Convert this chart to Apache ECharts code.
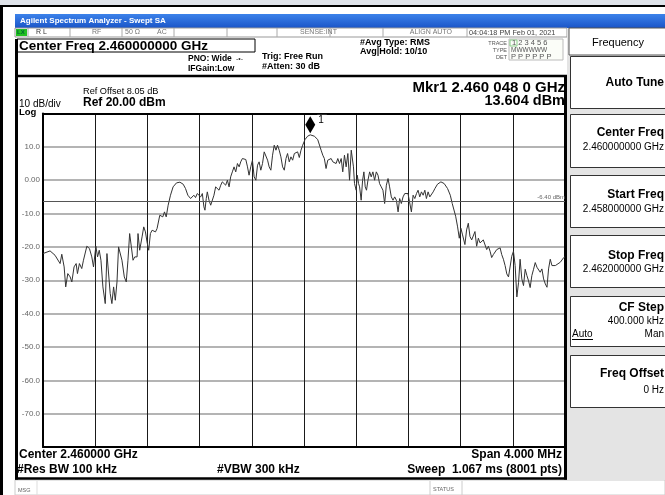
<!DOCTYPE html>
<html><head><meta charset="utf-8">
<script src="https://cdn.jsdelivr.net/npm/echarts@6/dist/echarts.min.js"></script>
<style>html,body{margin:0;padding:0;background:#fff}#c{width:665px;height:495px}</style>
</head><body><div id="c"></div>
<script>
// ---- data ----
const freqMHz = [2458.000,2458.015,2458.054,2458.092,2458.131,2458.144,2458.162,2458.174,2458.190,2458.208,2458.221,2458.238,2458.254,2458.264,2458.279,2458.297,2458.310,2458.336,2458.356,2458.374,2458.387,2458.405,2458.418,2458.431,2458.444,2458.459,2458.477,2458.490,2458.503,2458.515,2458.528,2458.541,2458.554,2458.567,2458.579,2458.592,2458.605,2458.623,2458.638,2458.651,2458.664,2458.677,2458.690,2458.703,2458.721,2458.728,2458.741,2458.759,2458.772,2458.785,2458.797,2458.810,2458.823,2458.836,2458.849,2458.862,2458.874,2458.895,2458.908,2458.918,2458.931,2458.944,2458.959,2458.977,2458.997,2459.023,2459.049,2459.074,2459.092,2459.110,2459.131,2459.144,2459.156,2459.169,2459.182,2459.195,2459.208,2459.221,2459.233,2459.241,2459.251,2459.259,2459.272,2459.285,2459.297,2459.310,2459.323,2459.336,2459.349,2459.362,2459.374,2459.387,2459.400,2459.413,2459.426,2459.438,2459.451,2459.464,2459.477,2459.490,2459.503,2459.515,2459.528,2459.541,2459.554,2459.567,2459.579,2459.592,2459.605,2459.618,2459.631,2459.644,2459.656,2459.669,2459.682,2459.695,2459.708,2459.721,2459.733,2459.746,2459.759,2459.772,2459.785,2459.797,2459.810,2459.823,2459.836,2459.849,2459.862,2459.874,2459.887,2459.900,2459.913,2459.926,2459.938,2459.951,2459.964,2459.977,2459.990,2460.008,2460.028,2460.048,2460.079,2460.105,2460.131,2460.144,2460.156,2460.169,2460.182,2460.195,2460.208,2460.221,2460.233,2460.246,2460.259,2460.272,2460.285,2460.297,2460.310,2460.323,2460.336,2460.349,2460.362,2460.369,2460.379,2460.387,2460.400,2460.408,2460.418,2460.426,2460.438,2460.449,2460.459,2460.469,2460.479,2460.490,2460.503,2460.515,2460.528,2460.541,2460.554,2460.567,2460.579,2460.592,2460.605,2460.618,2460.631,2460.644,2460.656,2460.669,2460.682,2460.695,2460.708,2460.721,2460.733,2460.746,2460.759,2460.772,2460.785,2460.797,2460.810,2460.823,2460.836,2460.849,2460.862,2460.874,2460.887,2460.900,2460.913,2460.926,2460.938,2460.951,2460.964,2460.977,2460.990,2461.003,2461.023,2461.049,2461.074,2461.100,2461.121,2461.136,2461.162,2461.177,2461.190,2461.202,2461.215,2461.233,2461.246,2461.259,2461.272,2461.285,2461.297,2461.310,2461.323,2461.336,2461.349,2461.362,2461.374,2461.387,2461.400,2461.413,2461.426,2461.438,2461.451,2461.477,2461.490,2461.503,2461.515,2461.528,2461.541,2461.554,2461.567,2461.579,2461.592,2461.605,2461.618,2461.631,2461.644,2461.656,2461.669,2461.682,2461.695,2461.708,2461.721,2461.733,2461.746,2461.759,2461.772,2461.785,2461.797,2461.810,2461.823,2461.836,2461.849,2461.862,2461.874,2461.887,2461.900,2461.913,2461.926,2461.938,2461.964,2461.990,2462.000];
const levelDbm = [-22.0,-21.5,-21.2,-22.5,-25.0,-22.2,-26.0,-32.0,-28.0,-29.0,-30.5,-26.0,-25.0,-28.0,-25.0,-26.5,-24.0,-19.8,-20.5,-23.0,-26.0,-19.8,-23.0,-21.0,-24.0,-32.0,-37.0,-22.0,-21.5,-34.0,-37.0,-32.0,-36.0,-30.5,-20.0,-20.5,-24.0,-29.0,-30.5,-24.0,-16.0,-20.0,-24.0,-23.0,-23.0,-16.0,-21.0,-17.0,-14.0,-15.5,-18.5,-21.0,-16.0,-15.0,-15.2,-15.5,-14.5,-10.5,-10.0,-11.0,-9.5,-11.0,-7.5,-4.5,-2.0,-0.8,-0.6,-1.2,-2.5,-4.5,-5.5,-5.0,-4.5,-5.2,-4.0,-3.5,-5.0,-4.0,-8.0,-9.0,-5.5,-3.5,-6.0,-7.5,-7.0,-4.5,-2.0,-1.5,-3.0,-1.5,-0.5,0.0,-1.5,0.0,-2.0,1.0,2.5,4.0,2.5,5.0,4.0,5.5,6.5,6.0,6.2,4.0,1.5,4.0,6.0,1.0,0.0,4.5,5.5,3.0,5.0,8.5,8.0,6.0,4.0,3.0,7.5,10.5,9.0,10.5,9.0,7.0,4.0,3.0,6.5,8.0,5.5,7.0,6.0,8.0,7.5,8.5,6.8,9.0,10.5,12.2,13.2,13.6,13.2,12.2,9.0,7.5,6.5,3.5,6.0,5.5,6.5,5.5,6.0,5.0,6.5,5.0,6.5,2.5,7.5,4.0,8.0,0.0,9.0,9.2,4.0,-1.0,-3.0,1.5,-1.0,-2.0,-6.0,0.0,2.5,-2.0,-3.0,0.0,2.5,1.0,2.5,0.0,2.5,1.5,-1.0,-2.0,-3.0,-7.0,-1.5,0.5,-2.0,-5.0,-6.0,-5.0,-6.0,-9.5,-5.5,-7.0,-5.0,-4.0,-4.5,-4.0,-4.5,-9.5,-4.5,-5.5,-4.0,-3.0,-5.0,-3.5,-4.5,-3.0,-5.5,-3.5,-5.0,-5.5,-3.5,-2.5,-1.2,-0.5,-1.0,-2.5,-4.5,-7.0,-10.8,-14.0,-17.4,-14.4,-16.4,-19.3,-14.9,-12.9,-16.9,-17.9,-18.4,-15.4,-19.8,-17.4,-18.8,-18.4,-17.9,-18.4,-20.8,-19.8,-21.3,-23.2,-22.3,-20.8,-21.3,-20.3,-22.3,-23.7,-25.6,-28.1,-29.0,-29.5,-22.8,-21.3,-25.6,-35.0,-30.7,-23.7,-29.6,-31.6,-26.7,-28.6,-30.2,-32.2,-28.6,-26.7,-24.7,-26.1,-25.6,-27.6,-26.6,-29.6,-31.1,-32.1,-26.6,-23.7,-25.6,-25.1,-25.6,-25.1,-24.6,-23.2,-23.0];
const markerFreqMHz = 2460.048;
const markerLevelDbm = 13.604;
const displayLineDbm = -6.40;
const startMHz = 2458, stopMHz = 2462, freqStepMHz = 0.4;
const refLevel = 20, bottomLevel = -80, dbPerDiv = 10;
const yTickLabels = {10:'10.0', 0:'0.00', '-10':'-10.0', '-20':'-20.0', '-30':'-30.0', '-40':'-40.0', '-50':'-50.0', '-60':'-60.0', '-70':'-70.0'};

const trace = freqMHz.map((f, i) => [f, levelDbm[i]]);
const F = 'Liberation Sans, Arial, sans-serif';

function T(x, y, text, size, opts) {
  opts = opts || {};
  return {type:'text', x:x, y:y, z:10, silent:true, style:{
    text:text, font:(opts.bold?'bold ':'')+size+'px '+F, fill:opts.color||'#000',
    align:opts.align||'left', textAlign:opts.align||'left',
    verticalAlign:'middle', textVerticalAlign:'middle'}};
}
function R(x, y, w, h, fill, stroke, lw) {
  return {type:'rect', z:1, silent:true, shape:{x:x,y:y,width:w,height:h},
    style:{fill:fill||'none', stroke:stroke||null, lineWidth:lw||1}};
}
function L(x1,y1,x2,y2,color,lw){
  return {type:'line', z:5, silent:true, shape:{x1:x1,y1:y1,x2:x2,y2:y2}, style:{stroke:color, lineWidth:lw||1}};
}

const g = [];
g.push(R(0,0,665,5,'#dfe3ea'));
g.push(L(0,6,665,6,'#000',2));
g.push(R(0,5,3,490,'#000'));
g.push({type:'rect', z:1, silent:true, shape:{x:15,y:14,width:650,height:14},
  style:{fill:new echarts.graphic.LinearGradient(0,0,0,1,[{offset:0,color:'#3c82ea'},{offset:1,color:'#1a55c8'}])}});
g.push(T(20,21,'Agilent Spectrum Analyzer - Swept SA',8,{bold:true,color:'#fff'}));
g.push(R(15,28,552,9,'#fff','#999',1));
g.push(R(16,29,11,7,'#22c022'));
g.push(T(17,32.5,'LX',6,{bold:true,color:'#063'}));
[28,70,122,174,227,277,330,383,467].forEach(x=>g.push(L(x,28,x,37,'#aaa',1)));
g.push(T(36,32.5,'R L',7,{color:'#333'}));
g.push(T(92,32.5,'RF',7,{color:'#777'}));
g.push(T(125,32.5,'50 Ω',7,{color:'#777'}));
g.push(T(157,32.5,'AC',7,{color:'#777'}));
g.push(T(300,32.5,'SENSE:INT',7,{color:'#777'}));
g.push(T(452,32.5,'ALIGN AUTO',7,{color:'#777',align:'right'}));
g.push(T(469,32.5,'04:04:18 PM Feb 01, 2021',7.3,{color:'#444'}));
g.push(R(17,39,238,13,'#fff','#000',1));
g.push(T(19,46,'Center Freq 2.460000000 GHz',13.5,{bold:true}));
g.push(T(188,59,'PNO: Wide',8.5,{bold:true}));
g.push(T(236,59,'-•-',7,{color:'#333'}));
g.push(T(188,69,'IFGain:Low',8.5,{bold:true}));
g.push(T(262,57,'Trig: Free Run',9,{bold:true}));
g.push(T(262,67,'#Atten: 30 dB',9,{bold:true}));
g.push(T(360,43,'#Avg Type: RMS',9,{bold:true}));
g.push(T(360,52,'Avg|Hold: 10/10',9,{bold:true}));
g.push(R(509,39,54,21,'#fbfdf8','#bbb',1));
g.push(R(510,40,7,6,'none','#8c8',1));
g.push(T(507,43,'TRACE',5.5,{color:'#555',align:'right'}));
g.push(T(507,50,'TYPE',5.5,{color:'#555',align:'right'}));
g.push(T(507,57,'DET',5.5,{color:'#555',align:'right'}));
g.push(T(512,43,'1 2 3 4 5 6',7.5,{color:'#555'}));
g.push(T(511,50,'MWWWWW',6.5,{color:'#555'}));
g.push(T(511,57,'P P P P P P',7.5,{color:'#555'}));
g.push(L(15,76,567,76,'#000',2.5));
g.push(R(15,39,3,441,'#000'));
g.push(R(564,76,3,404,'#000'));
g.push(L(15,478.5,567,478.5,'#000',2.5));
g.push(T(83,91,'Ref Offset 8.05 dB',9.2));
g.push(T(83,103,'Ref 20.00 dBm',12,{bold:true}));
g.push(T(19,104,'10 dB/div',10));
g.push(T(19,112,'Log',9.5,{bold:true}));
g.push(T(565,88,'Mkr1 2.460 048 0 GHz',15,{bold:true,align:'right'}));
g.push(T(565,101,'13.604 dBm',14.5,{bold:true,align:'right'}));
g.push(T(19,455,'Center 2.460000 GHz',12,{bold:true}));
g.push(T(17,470,'#Res BW 100 kHz',12,{bold:true}));
g.push(T(217,470,'#VBW 300 kHz',12,{bold:true}));
g.push(T(562,455,'Span 4.000 MHz',12,{bold:true,align:'right'}));
g.push(T(562,470,'Sweep  1.067 ms (8001 pts)',12,{bold:true,align:'right'}));
g.push(R(15,480,650,15,'#fff','#ccc',1));
g.push(L(37,481,37,495,'#ddd',1));
g.push(L(430,481,430,495,'#ccc',1));
g.push(L(462,481,462,495,'#ccc',1));
g.push(T(18,490,'MSG',5.5,{color:'#666'}));
g.push(T(433,489,'STATUS',5.5,{color:'#666'}));
g.push(R(567,28,98,452,'#e4e4e4'));
g.push(R(569,28,100,27,'#fff','#555',1));
g.push(T(618,43,'Frequency',11,{align:'center'}));
// [top, bottom, title, titleY, value, valueY]
const btns = [
  [56,108,'Auto Tune',83,null,0],
  [114,167,'Center Freq',133,'2.460000000 GHz',147],
  [175,227,'Start Freq',195,'2.458000000 GHz',209],
  [235,287,'Stop Freq',256,'2.462000000 GHz',269],
  [296,346,'CF Step',308,'400.000 kHz',321],
  [355,407,'Freq Offset',374,'0 Hz',390]
];
btns.forEach(b=>{
  g.push(R(570.5,b[0]+0.5,100,b[1]-b[0],'#fff','#333',1));
  g.push(T(664,b[3],b[2],12,{bold:true,align:'right'}));
  if (b[4]) g.push(T(664,b[5],b[4],10,{align:'right'}));
});
g.push(T(572,334,'Auto',10));
g.push(L(572,339.5,593,339.5,'#000',1));
g.push(T(664,334,'Man',10,{align:'right'}));

const hidden = {show:false};
const option = {
  animation:false,
  backgroundColor:'#fff',
  grid:{left:43, top:113.5, width:522, height:333.5, show:false},
  xAxis:[
    {type:'value', min:startMHz, max:stopMHz, interval:freqStepMHz, position:'bottom',
     axisLine:{show:true, onZero:false, lineStyle:{color:'#000', width:2}}, axisTick:hidden, axisLabel:hidden,
     splitLine:{show:true, lineStyle:{color:'#1a1a1a', width:1}}},
    {type:'value', min:startMHz, max:stopMHz, interval:freqStepMHz, position:'top',
     axisLine:{show:true, onZero:false, lineStyle:{color:'#000', width:2}}, axisTick:hidden, axisLabel:hidden, splitLine:hidden}
  ],
  yAxis:[
    {type:'value', min:bottomLevel, max:refLevel, interval:dbPerDiv, position:'left',
     axisLine:{show:true, onZero:false, lineStyle:{color:'#000', width:2}}, axisTick:hidden,
     axisLabel:{show:true, margin:3, fontSize:8, fontFamily:F, color:'#666',
       formatter:v=> (yTickLabels[String(v)]||'')},
     splitLine:{show:true, lineStyle:{color:'#b4b4b4', width:2}}},
    {type:'value', min:bottomLevel, max:refLevel, interval:dbPerDiv, position:'right',
     axisLine:{show:true, onZero:false, lineStyle:{color:'#000', width:2}}, axisTick:hidden, axisLabel:hidden, splitLine:hidden}
  ],
  series:[{
    type:'line', data:trace, xAxisIndex:0, yAxisIndex:0, showSymbol:false, symbol:'none', clip:false,
    lineStyle:{color:'#333', width:1}, z:3,
    markLine:{silent:true, symbol:'none', animation:false,
      lineStyle:{color:'#555', width:1, type:'solid'},
      label:{show:true, position:'insideEndTop', formatter:'-6.40 dBm', fontSize:6, fontFamily:F, color:'#666', distance:[0,1]},
      data:[{yAxis:displayLineDbm}]},
    markPoint:{silent:true, animation:false,
      data:[{coord:[markerFreqMHz, markerLevelDbm], symbol:'diamond', symbolSize:[10,17], symbolOffset:[0,-10],
        itemStyle:{color:'#000'},
        label:{show:true, formatter:'1', position:'right', distance:2, offset:[0,-5], fontSize:10, fontFamily:F, color:'#000', backgroundColor:'#fff', padding:[0,3,0,1]}}]}
  }],
  graphic:g
};
const chart = echarts.init(document.getElementById('c'), null, {renderer:'canvas'});
chart.setOption(option);
</script></body></html>
